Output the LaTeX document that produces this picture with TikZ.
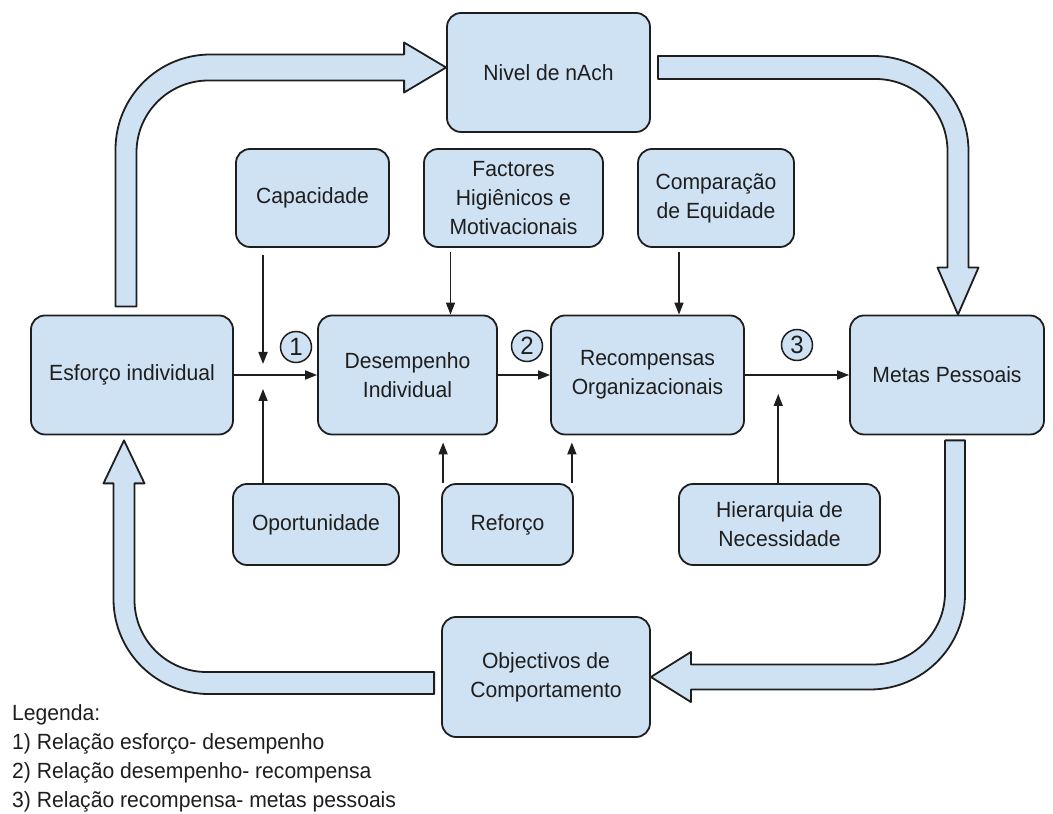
\documentclass[tikz,border=0pt]{standalone}
\usepackage{fontspec}
\setmainfont{Liberation Sans}[FakeStretch=0.96]
\usetikzlibrary{arrows.meta,calc}
\definecolor{boxblue}{HTML}{CFE2F3}
\definecolor{ink}{HTML}{1E1E1E}

\begin{document}
\begin{tikzpicture}[x=1pt,y=1pt,
  box/.style={draw=ink,line width=1.8pt,fill=boxblue,rounded corners=14pt,align=center,text=ink,font=\fontsize{22}{29}\selectfont,inner sep=0pt},
  num/.style={draw=ink,line width=1.5pt,fill=boxblue,circle,minimum size=31pt,inner sep=0pt,text=ink,font=\fontsize{25}{25}\selectfont},
  link/.style={draw=ink,line width=1.6pt,-{Triangle[length=12pt,width=9pt]}},
  bigarrow/.style={draw=ink,line width=1.8pt,fill=boxblue,line join=round}]
\useasboundingbox (0,0) rectangle (1053,814);

\node[box,minimum width=203pt,minimum height=119pt] (nach) at (548.5,741.5) {Nivel de nAch};
\node[box,minimum width=153pt,minimum height=98pt] (cap) at (312.5,616) {Capacidade};
\node[box,minimum width=179pt,minimum height=98pt] (fact) at (513.5,616) {Factores\\Higiênicos e\\Motivacionais};
\node[box,minimum width=156pt,minimum height=98pt] (comp) at (716,616) {Comparação\\de Equidade};
\node[box,minimum width=202pt,minimum height=119pt] (esf) at (132,439) {Esforço individual};
\node[box,minimum width=179pt,minimum height=119pt] (des) at (407.5,439) {Desempenho\\Individual};
\node[box,minimum width=193pt,minimum height=119pt] (rec) at (647.5,439) {Recompensas\\Organizacionais};
\node[box,minimum width=194pt,minimum height=119pt] (metas) at (947,439) {Metas Pessoais};
\node[box,minimum width=166pt,minimum height=81pt] (opor) at (316,289.5) {Oportunidade};
\node[box,minimum width=131pt,minimum height=81pt] (ref) at (507.5,289.5) {Reforço};
\node[box,minimum width=201pt,minimum height=81pt] (hier) at (779.5,289.5) {Hierarquia de\\Necessidade};
\node[box,minimum width=208pt,minimum height=120pt] (obj) at (546,137) {Objectivos de\\Comportamento};

\node[num] (n1) at (296,467) {1};
\node[num] (n2) at (527,468) {2};
\node[num] (n3) at (797,469) {3};

\draw[link] (esf) -- (des);
\draw[link] (des) -- (rec);
\draw[link] (rec) -- (metas);

\coordinate (j1) at ($(esf.east)!0.35!(des.west)$);
\coordinate (j3) at ($(rec.east)!0.32!(metas.west)$);
\coordinate (f1) at ([xshift=-63pt]fact.south);
\coordinate (f2) at ([xshift=-37pt]comp.south);
\coordinate (r1) at ([xshift=2pt]ref.north west);
\coordinate (r2) at ([xshift=-2pt]ref.north east);

\draw[link,shorten <=7pt,shorten >=11pt] (cap.south -| j1) -- (j1);
\draw[link,shorten >=14pt] (opor.north -| j1) -- (j1);
\draw[link,shorten <=4pt] (f1) -- (f1 |- des.north);
\draw[link,shorten <=4pt] (f2) -- (f2 |- rec.north);
\draw[link,shorten >=7pt] (r1) -- (r1 |- des.south);
\draw[link,shorten >=7pt] (r2) -- (r2 |- rec.south);
\draw[link,shorten >=19pt] (hier.north -| j3) -- (j3);

\draw[bigarrow] let \p1=([xshift=-6pt,yshift=8pt]esf.north), \p2=([yshift=5pt]nach.west) in
  (\x1-10.5pt,\y1) -- (\x1-10.5pt,\y2-82pt) arc[start angle=180,end angle=90,radius=95pt] -- (\x2-42pt,\y2+13pt) -- (\x2-42pt,\y2+25pt) -- (\x2,\y2) -- (\x2-42pt,\y2-25pt) -- (\x2-42pt,\y2-13pt) -- (\x1+82.5pt,\y2-13pt) arc[start angle=90,end angle=180,radius=72pt] -- (\x1+10.5pt,\y1) -- cycle;
\draw[bigarrow] let \p1=([xshift=7pt,yshift=5pt]nach.east), \p2=([xshift=11pt]metas.north) in
  (\x1,\y1+11.5pt) -- (\x2-84.5pt,\y1+11.5pt) arc[start angle=90,end angle=0,radius=95pt] -- (\x2+10.5pt,\y2+47pt) -- (\x2+20.5pt,\y2+47pt) -- (\x2,\y2) -- (\x2-20.5pt,\y2+47pt) -- (\x2-10.5pt,\y2+47pt) -- (\x2-10.5pt,\y1-83.5pt) arc[start angle=0,end angle=90,radius=72pt] -- (\x1,\y1-11.5pt) -- cycle;
\draw[bigarrow] let \p1=([xshift=8pt,yshift=-5pt]metas.south), \p2=(obj.east) in
  (\x1+10pt,\y1) -- (\x1+10pt,\y2+82.5pt) arc[start angle=0,end angle=-90,radius=95pt] -- (\x2+40pt,\y2-12.5pt) -- (\x2+40pt,\y2-25pt) -- (\x2,\y2) -- (\x2+40pt,\y2+25pt) -- (\x2+40pt,\y2+12.5pt) -- (\x1-82pt,\y2+12.5pt) arc[start angle=-90,end angle=0,radius=72pt] -- (\x1-10pt,\y1) -- cycle;
\draw[bigarrow] let \p1=([xshift=-7pt,yshift=-6pt]obj.west), \p2=([xshift=-8pt,yshift=-5pt]esf.south) in
  (\x1,\y1-11pt) -- (\x2+84.5pt,\y1-11pt) arc[start angle=270,end angle=180,radius=95pt] -- (\x2-10.5pt,\y2-43pt) -- (\x2-20.5pt,\y2-43pt) -- (\x2,\y2) -- (\x2+20.5pt,\y2-43pt) -- (\x2+10.5pt,\y2-43pt) -- (\x2+10.5pt,\y1+83pt) arc[start angle=180,end angle=270,radius=72pt] -- (\x1,\y1+11pt) -- cycle;

\node[anchor=base west,align=left,text=ink,font=\fontsize{22}{29}\selectfont,inner sep=0pt] (legend) at (12,6) {Legenda:\\1) Relação esforço- desempenho\\2) Relação desempenho- recompensa\\3) Relação recompensa- metas pessoais};
\end{tikzpicture}
\end{document}
